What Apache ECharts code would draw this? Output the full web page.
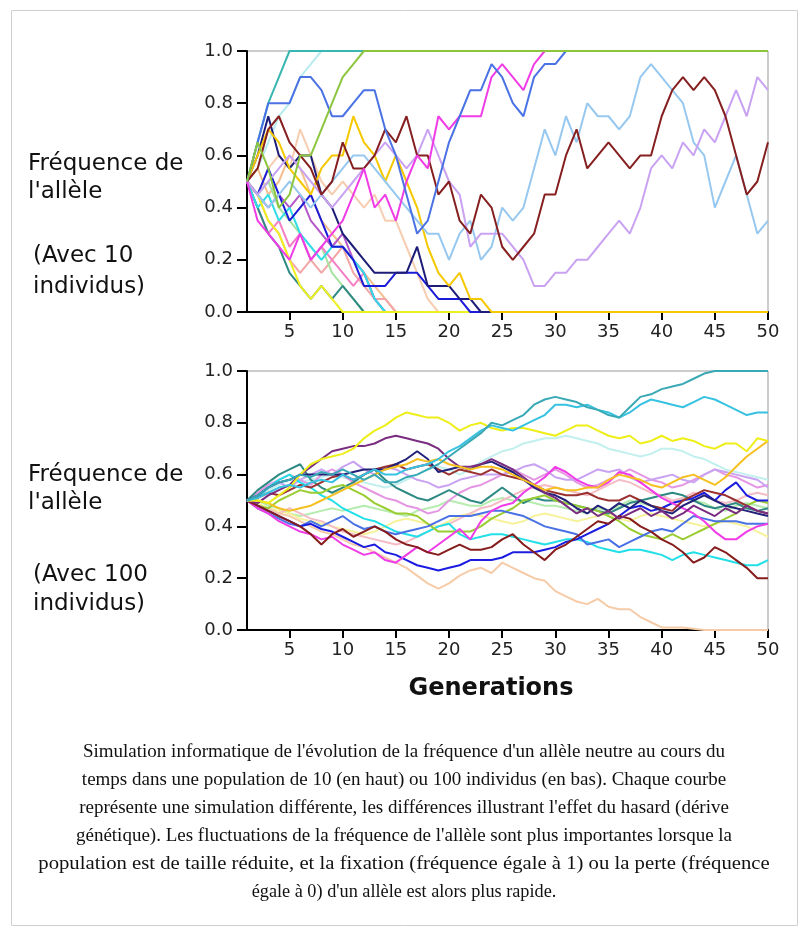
<!DOCTYPE html>
<html><head><meta charset="utf-8">
<script src="https://cdn.jsdelivr.net/npm/echarts/dist/echarts.min.js"></script>
<style>html,body{margin:0;padding:0;background:#fff}#c{width:808px;height:936px}</style>
</head><body><div id="c"></div>
<script>
// ---------- DATA ----------
const generations = ['1','2','3','4','5','6','7','8','9','10','11','12','13','14','15','16','17','18','19','20','21','22','23','24','25','26','27','28','29','30','31','32','33','34','35','36','37','38','39','40','41','42','43','44','45','46','47','48','49','50'];

// Top panel: population of 10 individuals
const top_paleCyan = [0.5,0.55,0.65,0.75,0.8,0.9,0.95,1,1,1, 1,1,1,1,1,1,1,1,1,1, 1,1,1,1,1,1,1,1,1,1, 1,1,1,1,1,1,1,1,1,1, 1,1,1,1,1,1,1,1,1,1];
const top_teal = [0.5,0.65,0.8,0.9,1,1,1,1,1,1, 1,1,1,1,1,1,1,1,1,1, 1,1,1,1,1,1,1,1,1,1, 1,1,1,1,1,1,1,1,1,1, 1,1,1,1,1,1,1,1,1,1];
const top_sandy = [0.5,0.55,0.45,0.5,0.6,0.55,0.45,0.35,0.3,0.25, 0.2,0.15,0.1,0.05,0,0,0,0,0,0, 0,0,0,0,0,0,0,0,0,0, 0,0,0,0,0,0,0,0,0,0, 0,0,0,0,0,0,0,0,0,0];
const top_salmon = [0.5,0.45,0.35,0.3,0.2,0.15,0.2,0.15,0.2,0.25, 0.15,0.1,0.05,0.05,0,0,0,0,0,0, 0,0,0,0,0,0,0,0,0,0, 0,0,0,0,0,0,0,0,0,0, 0,0,0,0,0,0,0,0,0,0];
const top_lightGreen = [0.5,0.45,0.5,0.4,0.35,0.3,0.2,0.25,0.15,0.1, 0.05,0,0,0,0,0,0,0,0,0, 0,0,0,0,0,0,0,0,0,0, 0,0,0,0,0,0,0,0,0,0, 0,0,0,0,0,0,0,0,0,0];
const top_pink = [0.5,0.4,0.3,0.35,0.25,0.3,0.2,0.25,0.2,0.15, 0.1,0.15,0.05,0,0,0,0,0,0,0, 0,0,0,0,0,0,0,0,0,0, 0,0,0,0,0,0,0,0,0,0, 0,0,0,0,0,0,0,0,0,0];
const top_peach = [0.5,0.45,0.55,0.6,0.55,0.7,0.6,0.5,0.45,0.5, 0.45,0.4,0.45,0.35,0.35,0.25,0.15,0.05,0,0, 0,0,0,0,0,0,0,0,0,0, 0,0,0,0,0,0,0,0,0,0, 0,0,0,0,0,0,0,0,0,0];
const top_orchid = [0.5,0.45,0.4,0.45,0.4,0.45,0.35,0.3,0.25,0.3, 0.2,0.15,0.05,0,0,0,0,0,0,0, 0,0,0,0,0,0,0,0,0,0, 0,0,0,0,0,0,0,0,0,0, 0,0,0,0,0,0,0,0,0,0];
const top_darkTeal = [0.5,0.4,0.3,0.25,0.15,0.1,0.05,0.1,0.05,0.1, 0.05,0,0,0,0,0,0,0,0,0, 0,0,0,0,0,0,0,0,0,0, 0,0,0,0,0,0,0,0,0,0, 0,0,0,0,0,0,0,0,0,0];
const top_cyan = [0.5,0.4,0.45,0.35,0.4,0.3,0.25,0.2,0.25,0.25, 0.2,0.15,0.05,0,0,0,0,0,0,0, 0,0,0,0,0,0,0,0,0,0, 0,0,0,0,0,0,0,0,0,0, 0,0,0,0,0,0,0,0,0,0];
const top_yellow = [0.5,0.45,0.35,0.3,0.2,0.1,0.05,0.1,0.05,0, 0,0,0,0,0,0,0,0,0,0, 0,0,0,0,0,0,0,0,0,0, 0,0,0,0,0,0,0,0,0,0, 0,0,0,0,0,0,0,0,0,0];
const top_blue = [0.5,0.45,0.55,0.45,0.35,0.4,0.45,0.35,0.25,0.25, 0.2,0.1,0.1,0.1,0.15,0.15,0.15,0.1,0.05,0.05, 0.05,0,0,0,0,0,0,0,0,0, 0,0,0,0,0,0,0,0,0,0, 0,0,0,0,0,0,0,0,0,0];
const top_navy = [0.5,0.6,0.75,0.6,0.55,0.6,0.6,0.45,0.4,0.3, 0.25,0.2,0.15,0.15,0.15,0.15,0.25,0.1,0.1,0.1, 0.05,0.05,0,0,0,0,0,0,0,0, 0,0,0,0,0,0,0,0,0,0, 0,0,0,0,0,0,0,0,0,0];
const top_gold = [0.5,0.6,0.7,0.65,0.55,0.5,0.45,0.55,0.6,0.6, 0.75,0.65,0.6,0.5,0.6,0.5,0.4,0.25,0.15,0.1, 0.15,0.05,0.05,0,0,0,0,0,0,0, 0,0,0,0,0,0,0,0,0,0, 0,0,0,0,0,0,0,0,0,0];
const top_skyBlue = [0.5,0.45,0.4,0.45,0.5,0.45,0.4,0.45,0.5,0.55, 0.6,0.6,0.55,0.5,0.45,0.4,0.35,0.3,0.3,0.2, 0.3,0.35,0.2,0.25,0.4,0.35,0.4,0.55,0.7,0.6, 0.75,0.65,0.8,0.75,0.75,0.7,0.75,0.9,0.95,0.9, 0.85,0.8,0.65,0.6,0.4,0.5,0.6,0.45,0.3,0.35];
const top_lavender = [0.5,0.45,0.5,0.55,0.6,0.55,0.5,0.45,0.4,0.45, 0.5,0.55,0.6,0.65,0.6,0.55,0.6,0.7,0.6,0.5, 0.45,0.25,0.3,0.3,0.3,0.25,0.2,0.1,0.1,0.15, 0.15,0.2,0.2,0.25,0.3,0.35,0.3,0.4,0.55,0.6, 0.55,0.65,0.6,0.7,0.65,0.75,0.85,0.75,0.9,0.85];
const top_darkRed = [0.5,0.55,0.7,0.75,0.65,0.6,0.55,0.45,0.5,0.65, 0.55,0.55,0.6,0.7,0.65,0.75,0.6,0.6,0.45,0.5, 0.35,0.3,0.45,0.4,0.25,0.2,0.25,0.3,0.45,0.45, 0.6,0.7,0.55,0.6,0.65,0.6,0.55,0.6,0.6,0.75, 0.85,0.9,0.85,0.9,0.85,0.75,0.6,0.45,0.5,0.65];
const top_magenta = [0.5,0.35,0.3,0.25,0.2,0.3,0.2,0.25,0.3,0.35, 0.45,0.55,0.4,0.45,0.35,0.5,0.6,0.55,0.75,0.7, 0.75,0.75,0.75,0.9,0.95,0.9,0.85,0.95,1,1, 1,1,1,1,1,1,1,1,1,1, 1,1,1,1,1,1,1,1,1,1];
const top_royalBlue = [0.5,0.65,0.8,0.8,0.8,0.9,0.9,0.85,0.75,0.75, 0.8,0.85,0.85,0.7,0.6,0.45,0.3,0.35,0.5,0.65, 0.75,0.85,0.85,0.95,0.9,0.8,0.75,0.9,0.95,0.95, 1,1,1,1,1,1,1,1,1,1, 1,1,1,1,1,1,1,1,1,1];
const top_yellowGreen = [0.5,0.65,0.55,0.4,0.45,0.6,0.6,0.7,0.8,0.9, 0.95,1,1,1,1,1,1,1,1,1, 1,1,1,1,1,1,1,1,1,1, 1,1,1,1,1,1,1,1,1,1, 1,1,1,1,1,1,1,1,1,1];

// Bottom panel: population of 100 individuals
const bot_paleTurq = [0.5,0.52,0.54,0.56,0.58,0.57,0.58,0.59,0.6,0.59, 0.58,0.57,0.56,0.55,0.56,0.58,0.6,0.62,0.63,0.62, 0.6,0.62,0.65,0.67,0.69,0.7,0.72,0.73,0.74,0.74, 0.75,0.74,0.73,0.72,0.7,0.69,0.68,0.67,0.68,0.7, 0.7,0.69,0.67,0.66,0.64,0.62,0.61,0.6,0.59,0.58];
const bot_lightGreen = [0.5,0.5,0.48,0.47,0.45,0.44,0.45,0.46,0.47,0.46, 0.47,0.48,0.47,0.46,0.45,0.44,0.46,0.47,0.48,0.5, 0.49,0.48,0.48,0.5,0.51,0.5,0.5,0.49,0.48,0.48, 0.47,0.46,0.45,0.47,0.46,0.48,0.5,0.49,0.48,0.47, 0.49,0.51,0.5,0.49,0.47,0.46,0.48,0.49,0.48,0.47];
const bot_lightYellow = [0.5,0.49,0.47,0.46,0.45,0.43,0.42,0.41,0.4,0.39, 0.38,0.37,0.38,0.4,0.42,0.43,0.42,0.41,0.4,0.42, 0.44,0.45,0.44,0.43,0.42,0.41,0.42,0.44,0.45,0.44, 0.43,0.42,0.43,0.44,0.45,0.43,0.42,0.44,0.45,0.44, 0.43,0.42,0.41,0.4,0.41,0.42,0.41,0.4,0.38,0.36];
const bot_lightPink = [0.5,0.48,0.46,0.45,0.47,0.45,0.43,0.42,0.4,0.38, 0.37,0.36,0.35,0.34,0.33,0.34,0.36,0.38,0.4,0.41, 0.43,0.45,0.47,0.48,0.5,0.52,0.54,0.55,0.56,0.55, 0.54,0.53,0.52,0.54,0.56,0.58,0.57,0.55,0.53,0.52, 0.5,0.51,0.53,0.52,0.5,0.49,0.5,0.52,0.53,0.52];
const bot_peach = [0.5,0.48,0.47,0.45,0.44,0.42,0.4,0.38,0.37,0.35, 0.33,0.32,0.3,0.28,0.26,0.24,0.21,0.18,0.16,0.18, 0.21,0.23,0.24,0.22,0.26,0.24,0.22,0.2,0.19,0.15, 0.13,0.11,0.1,0.12,0.09,0.08,0.08,0.05,0.03,0.01, 0.01,0.01,0.005,0,0,0,0,0,0,0];
const bot_violet = [0.5,0.53,0.56,0.58,0.6,0.58,0.56,0.6,0.62,0.6, 0.57,0.55,0.53,0.51,0.5,0.48,0.47,0.45,0.46,0.5, 0.53,0.55,0.56,0.58,0.6,0.62,0.6,0.58,0.6,0.62, 0.6,0.57,0.55,0.56,0.58,0.6,0.62,0.6,0.58,0.57, 0.55,0.56,0.58,0.6,0.62,0.6,0.59,0.57,0.55,0.56];
const bot_lavender = [0.5,0.52,0.55,0.57,0.55,0.58,0.6,0.62,0.6,0.63, 0.65,0.62,0.6,0.63,0.62,0.6,0.58,0.57,0.55,0.56, 0.58,0.59,0.6,0.6,0.6,0.61,0.63,0.64,0.62,0.59, 0.58,0.58,0.6,0.62,0.61,0.62,0.59,0.57,0.58,0.59, 0.6,0.58,0.57,0.6,0.62,0.61,0.6,0.59,0.58,0.55];
const bot_cyan = [0.5,0.51,0.55,0.58,0.6,0.57,0.55,0.52,0.5,0.47, 0.45,0.43,0.42,0.4,0.38,0.37,0.36,0.38,0.4,0.41, 0.37,0.35,0.36,0.37,0.37,0.36,0.35,0.34,0.33,0.34, 0.35,0.35,0.34,0.32,0.31,0.3,0.31,0.31,0.3,0.29, 0.27,0.29,0.3,0.29,0.28,0.27,0.26,0.25,0.25,0.27];
const bot_darkTeal = [0.5,0.54,0.57,0.6,0.62,0.64,0.58,0.55,0.53,0.55, 0.57,0.6,0.62,0.58,0.55,0.53,0.51,0.5,0.52,0.54, 0.52,0.5,0.49,0.52,0.55,0.52,0.49,0.51,0.5,0.5, 0.49,0.48,0.47,0.46,0.45,0.47,0.49,0.5,0.51,0.52, 0.53,0.52,0.5,0.48,0.47,0.48,0.49,0.47,0.46,0.47];
const bot_yellowGreen = [0.5,0.48,0.47,0.5,0.52,0.54,0.53,0.53,0.55,0.56, 0.54,0.52,0.49,0.47,0.45,0.45,0.44,0.41,0.38,0.38, 0.38,0.38,0.4,0.43,0.45,0.47,0.5,0.51,0.52,0.5, 0.49,0.48,0.47,0.46,0.44,0.42,0.39,0.37,0.36,0.35, 0.37,0.35,0.37,0.39,0.41,0.43,0.45,0.48,0.5,0.49];
const bot_royalBlue = [0.5,0.47,0.45,0.43,0.41,0.4,0.42,0.4,0.42,0.44, 0.41,0.39,0.4,0.38,0.37,0.38,0.39,0.4,0.42,0.44, 0.44,0.44,0.45,0.46,0.46,0.45,0.44,0.42,0.4,0.39, 0.38,0.37,0.33,0.34,0.35,0.32,0.34,0.36,0.38,0.39, 0.38,0.41,0.44,0.43,0.42,0.42,0.42,0.41,0.41,0.41];
const bot_blue = [0.5,0.48,0.46,0.44,0.42,0.4,0.41,0.39,0.38,0.36, 0.34,0.32,0.33,0.3,0.29,0.27,0.25,0.24,0.23,0.24, 0.25,0.27,0.27,0.27,0.28,0.3,0.3,0.3,0.31,0.32, 0.34,0.35,0.37,0.39,0.41,0.44,0.47,0.48,0.46,0.47, 0.49,0.5,0.51,0.53,0.5,0.54,0.57,0.52,0.5,0.5];
const bot_magenta = [0.5,0.47,0.45,0.42,0.4,0.38,0.37,0.35,0.36,0.33, 0.31,0.29,0.3,0.27,0.26,0.29,0.32,0.3,0.33,0.36, 0.39,0.35,0.42,0.46,0.48,0.49,0.53,0.56,0.59,0.63, 0.61,0.58,0.56,0.55,0.57,0.61,0.6,0.57,0.54,0.51, 0.49,0.47,0.45,0.42,0.38,0.35,0.35,0.38,0.4,0.41];
const bot_brown = [0.5,0.51,0.53,0.52,0.54,0.56,0.55,0.57,0.59,0.6, 0.58,0.6,0.62,0.63,0.64,0.62,0.63,0.64,0.62,0.6, 0.62,0.61,0.6,0.62,0.6,0.59,0.58,0.56,0.54,0.53, 0.52,0.52,0.53,0.51,0.5,0.5,0.52,0.5,0.48,0.47, 0.46,0.5,0.52,0.54,0.53,0.52,0.5,0.48,0.46,0.45];
const bot_darkRed = [0.5,0.48,0.46,0.44,0.42,0.4,0.37,0.33,0.37,0.39, 0.36,0.38,0.4,0.38,0.35,0.33,0.32,0.3,0.29,0.31, 0.33,0.31,0.31,0.32,0.35,0.37,0.33,0.3,0.27,0.31, 0.33,0.36,0.39,0.42,0.41,0.44,0.43,0.4,0.38,0.35, 0.33,0.3,0.26,0.28,0.32,0.3,0.27,0.24,0.2,0.2];
const bot_navy = [0.5,0.52,0.55,0.57,0.58,0.6,0.6,0.6,0.6,0.6, 0.61,0.62,0.62,0.62,0.64,0.66,0.69,0.66,0.61,0.62, 0.63,0.62,0.64,0.65,0.63,0.61,0.58,0.55,0.53,0.52, 0.5,0.47,0.45,0.48,0.46,0.49,0.47,0.5,0.48,0.46, 0.45,0.48,0.5,0.52,0.5,0.48,0.47,0.46,0.45,0.44];
const bot_purple = [0.5,0.49,0.52,0.54,0.56,0.6,0.63,0.66,0.69,0.7, 0.71,0.71,0.72,0.74,0.75,0.74,0.73,0.72,0.7,0.66, 0.63,0.63,0.64,0.66,0.64,0.62,0.59,0.56,0.53,0.51, 0.48,0.45,0.47,0.44,0.46,0.43,0.45,0.47,0.44,0.46, 0.43,0.45,0.48,0.46,0.44,0.47,0.45,0.48,0.46,0.45];
const bot_gold = [0.5,0.5,0.49,0.47,0.46,0.47,0.48,0.5,0.52,0.54, 0.56,0.58,0.6,0.62,0.63,0.64,0.66,0.65,0.66,0.64, 0.63,0.62,0.63,0.63,0.62,0.6,0.58,0.56,0.54,0.55, 0.54,0.54,0.55,0.55,0.58,0.6,0.59,0.58,0.56,0.55, 0.57,0.59,0.6,0.58,0.56,0.59,0.63,0.67,0.7,0.73];
const bot_yellow = [0.5,0.5,0.49,0.52,0.55,0.6,0.64,0.66,0.67,0.68, 0.7,0.74,0.77,0.79,0.82,0.84,0.83,0.82,0.82,0.8, 0.77,0.79,0.8,0.78,0.77,0.78,0.78,0.77,0.76,0.75, 0.77,0.79,0.79,0.77,0.75,0.74,0.75,0.72,0.73,0.75, 0.73,0.74,0.73,0.71,0.7,0.72,0.72,0.69,0.74,0.73];
const bot_skyCyan = [0.5,0.51,0.53,0.55,0.56,0.55,0.57,0.58,0.57,0.6, 0.58,0.6,0.62,0.6,0.6,0.62,0.63,0.64,0.66,0.69, 0.71,0.74,0.77,0.79,0.78,0.77,0.79,0.81,0.83,0.87, 0.87,0.86,0.87,0.85,0.84,0.82,0.84,0.87,0.89,0.88, 0.87,0.86,0.88,0.9,0.89,0.87,0.85,0.83,0.84,0.84];
const bot_teal = [0.5,0.52,0.55,0.57,0.58,0.6,0.59,0.61,0.6,0.62, 0.6,0.58,0.6,0.57,0.57,0.59,0.6,0.62,0.64,0.67, 0.7,0.73,0.76,0.8,0.79,0.81,0.83,0.87,0.89,0.9, 0.89,0.88,0.86,0.85,0.83,0.82,0.86,0.9,0.91,0.93, 0.94,0.95,0.97,0.99,1,1,1,1,1,1];

const yTickValues = [0, 0.2, 0.4, 0.6, 0.8, 1.0];

// ---------- STYLE (separate from data) ----------
const topSeriesDef = [
  ['paleCyan', top_paleCyan, '#b8ecee'],
  ['teal', top_teal, '#38b6b0'],
  ['sandy', top_sandy, '#f3bf8e'],
  ['salmon', top_salmon, '#f2a6a6'],
  ['lightGreen', top_lightGreen, '#a6e3a0'],
  ['pink', top_pink, '#f47fc4'],
  ['peach', top_peach, '#f6cdb0'],
  ['orchid', top_orchid, '#b458c8'],
  ['darkTeal', top_darkTeal, '#2f8a84'],
  ['cyan', top_cyan, '#2fdde6'],
  ['yellow', top_yellow, '#f0f020'],
  ['blue', top_blue, '#1c1cd8'],
  ['navy', top_navy, '#1d1d78'],
  ['gold', top_gold, '#f5c800'],
  ['skyBlue', top_skyBlue, '#97c8f0'],
  ['lavender', top_lavender, '#c9a3f2'],
  ['darkRed', top_darkRed, '#862020'],
  ['magenta', top_magenta, '#f03ce6'],
  ['royalBlue', top_royalBlue, '#4a72e4'],
  ['yellowGreen', top_yellowGreen, '#8cc63f']
];
const botSeriesDef = [
  ['paleTurq', bot_paleTurq, '#c2f0ee'],
  ['lightGreen', bot_lightGreen, '#b6ecb0'],
  ['lightYellow', bot_lightYellow, '#f6f29a'],
  ['lightPink', bot_lightPink, '#f4bcc4'],
  ['peach', bot_peach, '#f6cba8'],
  ['violet', bot_violet, '#e496e2'],
  ['lavender', bot_lavender, '#c9a3f2'],
  ['cyan', bot_cyan, '#22dfe8'],
  ['darkTeal', bot_darkTeal, '#2f8a84'],
  ['yellowGreen', bot_yellowGreen, '#9acd32'],
  ['royalBlue', bot_royalBlue, '#4a72e4'],
  ['blue', bot_blue, '#1c1ce0'],
  ['magenta', bot_magenta, '#f03ce6'],
  ['brown', bot_brown, '#9a3030'],
  ['darkRed', bot_darkRed, '#861c1c'],
  ['navy', bot_navy, '#22227a'],
  ['purple', bot_purple, '#7a2d80'],
  ['gold', bot_gold, '#f5c020'],
  ['yellow', bot_yellow, '#eeee18'],
  ['skyCyan', bot_skyCyan, '#38c2e2'],
  ['teal', bot_teal, '#3aa9b6']
];

const FONT = 'DejaVu Sans';
const isTick = (i) => (i + 1) % 5 === 0;

function xAxisFor(gi) {
  return {
    type: 'category', gridIndex: gi, data: generations, boundaryGap: false,
    axisLine: { show: true, lineStyle: { color: '#000', width: 2 } },
    axisTick: { show: true, interval: isTick, length: 8, lineStyle: { color: '#000', width: 2 } },
    axisLabel: { interval: isTick, color: '#222', fontSize: 18, fontFamily: FONT, margin: 11 },
    splitLine: { show: false }
  };
}
function yAxisFor(gi) {
  return {
    type: 'value', gridIndex: gi, min: yTickValues[0], max: yTickValues[yTickValues.length - 1], interval: 0.2,
    axisLine: { show: true, lineStyle: { color: '#000', width: 2 } },
    axisTick: { show: true, length: 10, lineStyle: { color: '#000', width: 2 } },
    axisLabel: { color: '#222', fontSize: 18, fontFamily: FONT, margin: 14, formatter: (v) => v.toFixed(1) },
    splitLine: { show: false }
  };
}
function mkSeries(defs, gi) {
  return defs.map(([name, data, color]) => ({
    type: 'line', name: name, xAxisIndex: gi, yAxisIndex: gi, data: data,
    showSymbol: false, symbol: 'none', clip: false, silent: true, animation: false,
    lineStyle: { color: color, width: 2 }
  }));
}

const caption = [
  "Simulation informatique de l'évolution de la fréquence d'un allèle neutre au cours du",
  "temps dans une population de 10 (en haut) ou 100 individus (en bas). Chaque courbe",
  "représente une simulation différente, les différences illustrant l'effet du hasard (dérive",
  "génétique). Les fluctuations de la fréquence de l'allèle sont plus importantes lorsque la",
  "population est de taille réduite, et la fixation (fréquence égale à 1) ou la perte (fréquence",
  "égale à 0) d'un allèle est alors plus rapide."
];
const captionStretch = [1, 1, 1, 1, 1.09, 0.96];

const graphics = [
  { type: 'rect', shape: { x: 11.5, y: 10.5, width: 786, height: 915 }, style: { fill: 'none', stroke: '#cfcfcf', lineWidth: 1 }, silent: true },
  { type: 'text', left: 28, top: 150, style: { text: "Fréquence de\nl'allèle", font: '23px "DejaVu Sans"', fill: '#111', lineHeight: 28 } },
  { type: 'text', left: 33, top: 241, style: { text: "(Avec 10\nindividus)", font: '23px "DejaVu Sans"', fill: '#111', lineHeight: 31 } },
  { type: 'text', left: 28, top: 461, style: { text: "Fréquence de\nl'allèle", font: '23px "DejaVu Sans"', fill: '#111', lineHeight: 28 } },
  { type: 'text', left: 33, top: 561, style: { text: "(Avec 100\nindividus)", font: '23px "DejaVu Sans"', fill: '#111', lineHeight: 29 } },
  { type: 'text', x: 491, y: 689, style: { text: 'Generations', font: 'bold 24px "DejaVu Sans"', fill: '#111', textAlign: 'center', textVerticalAlign: 'middle' } }
];
caption.forEach((line, i) => {
  graphics.push({ type: 'text', x: 404, y: 752 + i * 28, scaleX: captionStretch[i], style: { text: line, font: '19px "Liberation Serif"', fill: '#111', textAlign: 'center', textVerticalAlign: 'middle' } });
});

const chart = echarts.init(document.getElementById('c'), null, { renderer: 'canvas' });
chart.setOption({
  animation: false,
  backgroundColor: '#fff',
  grid: [
    { left: 247, top: 51, width: 521, height: 261, show: true, borderColor: '#999', borderWidth: 1, backgroundColor: 'transparent' },
    { left: 247, top: 371, width: 521, height: 259, show: true, borderColor: '#999', borderWidth: 1, backgroundColor: 'transparent' }
  ],
  xAxis: [xAxisFor(0), xAxisFor(1)],
  yAxis: [yAxisFor(0), yAxisFor(1)],
  series: mkSeries(topSeriesDef, 0).concat(mkSeries(botSeriesDef, 1)),
  graphic: graphics
});
</script>
</body></html>
